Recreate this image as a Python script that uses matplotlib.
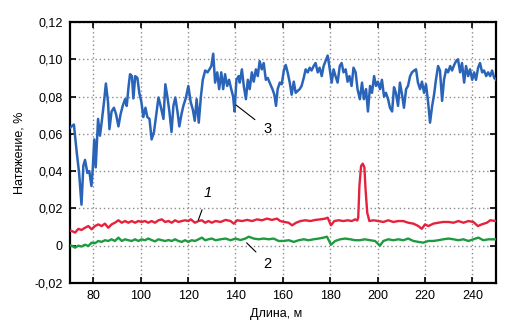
import matplotlib
matplotlib.use("Agg")
import matplotlib.pyplot as plt
from matplotlib.ticker import FuncFormatter

plt.rcParams["font.family"] = ["Liberation Sans", "DejaVu Sans"]

# curve 3 (blue)
blue_x = [70, 70.8, 71.8, 73, 74, 75, 75.8, 76.5, 77.5, 78.3, 79.2, 79.7, 80.4, 81, 82,
          82.8, 83.5, 84.5, 85.3, 86.2, 86.8, 87.7, 88.7, 89.6, 90.6, 91.5, 92.4, 93.4,
          94.1, 94.9, 95.5, 96.3, 96.9, 97.7, 98.6, 99.4, 100.3, 101.1, 102, 102.8, 103.7,
          104.6, 105.6, 106.5, 107.5, 108.4, 109.6, 110.4, 111.3, 112.1, 113, 113.8, 114.6,
          115.5, 116.3, 117.2, 118, 119.1, 120.1, 121.1, 122, 122.8, 123.6, 124.5, 125.4,
          126.2, 127.2, 128.2, 129, 129.8, 130.6, 131.4, 132.3, 133.1, 134, 134.8, 135.6,
          136.5, 137.3, 138.2, 139, 139.6, 140.4, 141.3, 141.8, 142.7, 143.5, 144.4, 145.2,
          146, 146.9, 147.7, 148.6, 149.4, 150.2, 151.1, 151.9, 152.8, 153.6, 154.7, 155.6,
          156.4, 157.1, 157.8, 158.7, 159.5, 160.4, 161.2, 162, 162.9, 163.7, 164.6, 165.4,
          166.2, 167.1, 167.9, 168.8, 169.6, 170.5, 171.3, 172.1, 173, 173.8, 174.7, 175.5,
          176.4, 177.2, 178, 178.9, 179.7, 180.6, 181.4, 182.2, 183.1, 184, 184.8, 185.6,
          186.5, 187.3, 188.1, 189, 189.8, 190.7, 191.5, 192.5, 193.4, 194.2, 195.1, 195.9,
          196.8, 197.6, 198.5, 199.3, 200.1, 201, 201.8, 202.7, 203.5, 204.4, 205.2, 206.1,
          206.9, 207.7, 208.6, 209.4, 210.3, 211.1, 212, 212.8, 213.7, 214.5, 215.4, 216.2,
          217, 217.9, 218.7, 219.6, 220.4, 221.3, 222.1, 223, 223.8, 224.6, 225.5, 226.3,
          227.2, 228, 228.9, 229.7, 230.6, 231.4, 232.3, 233.1, 233.9, 234.8, 235.6, 236.5,
          237.3, 238.2, 239, 239.9, 240.7, 241.5, 242.4, 243.2, 244.1, 244.9, 245.8, 246.6,
          247.5, 248.3, 249.2, 250]
blue_y = [0.063, 0.064, 0.065, 0.050, 0.039, 0.022, 0.043, 0.046, 0.039, 0.040, 0.032, 0.040,
          0.057, 0.042, 0.068, 0.059, 0.066, 0.077, 0.087, 0.077, 0.0625, 0.072, 0.074, 0.0705,
          0.064, 0.0705, 0.075, 0.0786, 0.075, 0.0857, 0.092, 0.091, 0.079, 0.091, 0.090, 0.082,
          0.077, 0.069, 0.074, 0.069, 0.068, 0.057, 0.061, 0.0696, 0.0795, 0.075, 0.068, 0.0866,
          0.0795, 0.072, 0.061, 0.075, 0.0795, 0.072, 0.064, 0.0705, 0.075, 0.0795, 0.0857,
          0.077, 0.073, 0.067, 0.0786, 0.066, 0.080, 0.089, 0.094, 0.093, 0.0946, 0.0964, 0.103,
          0.0875, 0.093, 0.084, 0.093, 0.084, 0.092, 0.0857, 0.089, 0.084, 0.080, 0.072, 0.089,
          0.091, 0.0875, 0.0946, 0.0857, 0.0786, 0.089, 0.084, 0.093, 0.088, 0.0946, 0.091,
          0.099, 0.0946, 0.098, 0.089, 0.090, 0.0866, 0.084, 0.081, 0.075, 0.084, 0.0875,
          0.0866, 0.094, 0.097, 0.093, 0.0875, 0.081, 0.088, 0.082, 0.083, 0.084, 0.0857, 0.090,
          0.0946, 0.093, 0.0955, 0.094, 0.0964, 0.098, 0.093, 0.0955, 0.091, 0.0964, 0.099,
          0.102, 0.0955, 0.0875, 0.0946, 0.091, 0.0875, 0.0964, 0.098, 0.093, 0.0946, 0.088,
          0.091, 0.0857, 0.0955, 0.093, 0.084, 0.0786, 0.0875, 0.0786, 0.084, 0.072, 0.0857,
          0.082, 0.091, 0.0857, 0.088, 0.084, 0.089, 0.080, 0.082, 0.0786, 0.074, 0.072, 0.085,
          0.082, 0.075, 0.0875, 0.081, 0.074, 0.084, 0.0857, 0.091, 0.093, 0.094, 0.0946,
          0.0875, 0.084, 0.088, 0.082, 0.0866, 0.077, 0.066, 0.075, 0.081, 0.089, 0.0964, 0.094,
          0.0777, 0.089, 0.0946, 0.093, 0.0964, 0.094, 0.097, 0.099, 0.100, 0.093, 0.098, 0.0875,
          0.0964, 0.091, 0.0946, 0.089, 0.093, 0.089, 0.0955, 0.098, 0.093, 0.094, 0.091, 0.093,
          0.091, 0.094, 0.090, 0.089]

# curve 1 (red)
red_x = [70, 70.8, 72.3, 73.7, 75, 76.5, 77.9, 79.3, 80.7, 82.1, 83.5, 84.9, 86.3, 87.7,
         89.1, 90.6, 92, 93.4, 94.8, 96.2, 97.6, 99, 100.4, 101.8, 103.2, 104.6, 106, 107.5,
         108.9, 110.3, 111.7, 113.1, 114.5, 115.9, 117.3, 118.7, 120.1, 121.1, 122.9, 124.4,
         125.8, 127.2, 128.6, 130, 131.6, 133.7, 135.8, 137.9, 139.3, 140.7, 142.8, 144.9,
         147, 149.1, 151.2, 153.3, 155.4, 157.5, 158.9, 160.6, 162.4, 163.9, 165.6, 167.4,
         169.5, 171.6, 173.7, 175.8, 177.9, 178.9, 180.3, 181.7, 183.5, 185.6, 187.3, 189.1,
         190.5, 191.4, 191.8, 192.3, 193, 193.7, 194.4, 194.9, 195.6, 196.5, 198.2, 200.3,
         202.4, 204.5, 206.6, 208.7, 210.8, 212.9, 215.1, 217.2, 218.6, 220, 221.4, 223.5,
         225.6, 227.7, 229.9, 232, 234.1, 236.2, 238.3, 240.4, 242.3, 243.9, 246.1, 247.5, 250]
red_y = [0.008, 0.0079, 0.007, 0.009, 0.0084, 0.0096, 0.0105, 0.0088, 0.0105, 0.0114, 0.0105,
         0.0118, 0.0096, 0.0114, 0.0123, 0.0136, 0.0123, 0.0132, 0.0123, 0.0132, 0.0123, 0.0132,
         0.0127, 0.0132, 0.0123, 0.0132, 0.0123, 0.0136, 0.0141, 0.0127, 0.0132, 0.0123, 0.0136,
         0.0127, 0.0132, 0.0136, 0.0132, 0.0141, 0.0123, 0.0132, 0.0136, 0.0123, 0.0132, 0.0123,
         0.0132, 0.0127, 0.0138, 0.0132, 0.0118, 0.0136, 0.0132, 0.0138, 0.0132, 0.0141, 0.0136,
         0.0145, 0.0138, 0.0145, 0.0132, 0.0127, 0.0123, 0.0109, 0.0123, 0.0132, 0.0136, 0.0132,
         0.0138, 0.0141, 0.0145, 0.015, 0.0109, 0.0132, 0.0136, 0.0132, 0.0136, 0.0132, 0.0141,
         0.0135, 0.015, 0.032, 0.0427, 0.044, 0.042, 0.030, 0.0177, 0.0132, 0.0136, 0.0132,
         0.0127, 0.0136, 0.0127, 0.0132, 0.0132, 0.0123, 0.0118, 0.0105, 0.009, 0.0114, 0.0105,
         0.0118, 0.0123, 0.0127, 0.0127, 0.0123, 0.0132, 0.0123, 0.0132, 0.0127, 0.0105, 0.0114,
         0.0123, 0.0136, 0.0132]

# curve 2 (green)
green_x = [70, 70.8, 72.3, 73.7, 75, 76.5, 77.9, 79.3, 80.7, 82.1, 83.5, 84.9, 86.3, 87.7,
           89.1, 90.6, 92, 93.4, 94.8, 96.2, 97.6, 99, 100.4, 101.8, 103.2, 104.6, 106, 107.5,
           108.9, 110.3, 111.7, 113.1, 114.5, 115.9, 117.3, 118.7, 120.1, 121.5, 122.9, 124.4,
           125.8, 127.2, 128.6, 130, 131.6, 133.7, 135.8, 137.9, 140, 142.1, 144.2, 145.6,
           147.7, 149.8, 151.9, 154, 156.1, 158.2, 160.3, 162.5, 164.6, 166.7, 168.8, 170.9,
           173, 175.1, 177.2, 178.6, 180.3, 182.1, 184.2, 186.3, 188.4, 190.5, 192.5, 194.6,
           196.8, 198.9, 201, 202.4, 204.5, 206.6, 208.7, 210.8, 212.9, 215.1, 217.2, 219.3,
           221.4, 223.5, 225.6, 227.7, 229.9, 232, 234.1, 236.2, 238.3, 240.4, 242.5, 244.6,
           246.8, 250]
green_y = [0.0002, 0.0, -0.0011, 0.0, -0.0005, 0.0005, -0.0002, 0.0016, 0.0013, 0.0025, 0.002,
           0.0029, 0.0025, 0.0034, 0.0025, 0.0043, 0.0025, 0.0034, 0.0029, 0.0025, 0.0034, 0.0025,
           0.0034, 0.0029, 0.0038, 0.003, 0.0023, 0.0034, 0.0029, 0.0025, 0.003, 0.0025, 0.0034,
           0.0025, 0.002, 0.0029, 0.002, 0.0029, 0.0025, 0.0034, 0.0043, 0.0029, 0.0034, 0.0038,
           0.0029, 0.0034, 0.0038, 0.0029, 0.0038, 0.003, 0.0038, 0.0048, 0.0038, 0.0034, 0.0038,
           0.0034, 0.0038, 0.0025, 0.0025, 0.0029, 0.002, 0.0029, 0.0034, 0.0029, 0.0034, 0.0038,
           0.0043, 0.0048, 0.0005, 0.0025, 0.0034, 0.0038, 0.0034, 0.0029, 0.0029, 0.0034, 0.0029,
           0.0025, 0.0, 0.0025, 0.0034, 0.0029, 0.0034, 0.0029, 0.0038, 0.0025, 0.002, 0.0016,
           0.0025, 0.0025, 0.0029, 0.0034, 0.0038, 0.0034, 0.0029, 0.0034, 0.0025, 0.0034, 0.0043,
           0.0029, 0.0034, 0.0034]

x_ticks = [80, 100, 120, 140, 160, 180, 200, 220, 240]
y_ticks = [-0.02, 0, 0.02, 0.04, 0.06, 0.08, 0.10, 0.12]


def comma_fmt(v, pos):
    if abs(v) < 1e-9:
        return "0"
    return f"{v:.2f}".replace(".", ",")


fig = plt.figure(figsize=(5.12, 3.34), dpi=100)
ax = fig.add_axes([0.136, 0.153, 0.833, 0.781])

ax.plot(green_x, green_y, color="#1f9a3f", lw=1.7, zorder=3)
ax.plot(red_x, red_y, color="#e6213b", lw=1.7, zorder=3)
ax.plot(blue_x, blue_y, color="#2a64b8", lw=1.8, zorder=3)

ax.set_xlim(70, 250)
ax.set_ylim(-0.02, 0.12)
ax.set_xticks(x_ticks)
ax.set_yticks(y_ticks)
ax.yaxis.set_major_formatter(FuncFormatter(comma_fmt))
ax.grid(True, color="#8c8c8c", linestyle=(0, (1, 2)), linewidth=1.0, zorder=0)
ax.tick_params(direction="in", length=4, width=1.2, top=True, right=True,
               labelsize=9, pad=5)
for s in ax.spines.values():
    s.set_linewidth(1.6)

ax.set_xlabel("Длина, м", fontsize=9)
ax.xaxis.set_label_coords(0.483, -0.095)
ax.set_ylabel("Натяжение, %", fontsize=9, labelpad=6)

# curve labels with leader lines
ax.annotate("1", xy=(124.3, 0.0137), xytext=(128.4, 0.028), fontsize=10.5, style="italic",
            ha="center", va="center",
            arrowprops=dict(arrowstyle="-", color="black", lw=0.8, shrinkB=0, shrinkA=5))
ax.annotate("2", xy=(144.7, 0.0015), xytext=(153.6, -0.0096), fontsize=10.5,
            ha="center", va="center",
            arrowprops=dict(arrowstyle="-", color="black", lw=0.8, shrinkB=0, shrinkA=5))
ax.annotate("3", xy=(140.2, 0.0755), xytext=(153.4, 0.0625), fontsize=10.5,
            ha="center", va="center",
            arrowprops=dict(arrowstyle="-", color="black", lw=0.8, shrinkB=0, shrinkA=5))

fig.savefig("out.png", dpi=100)
